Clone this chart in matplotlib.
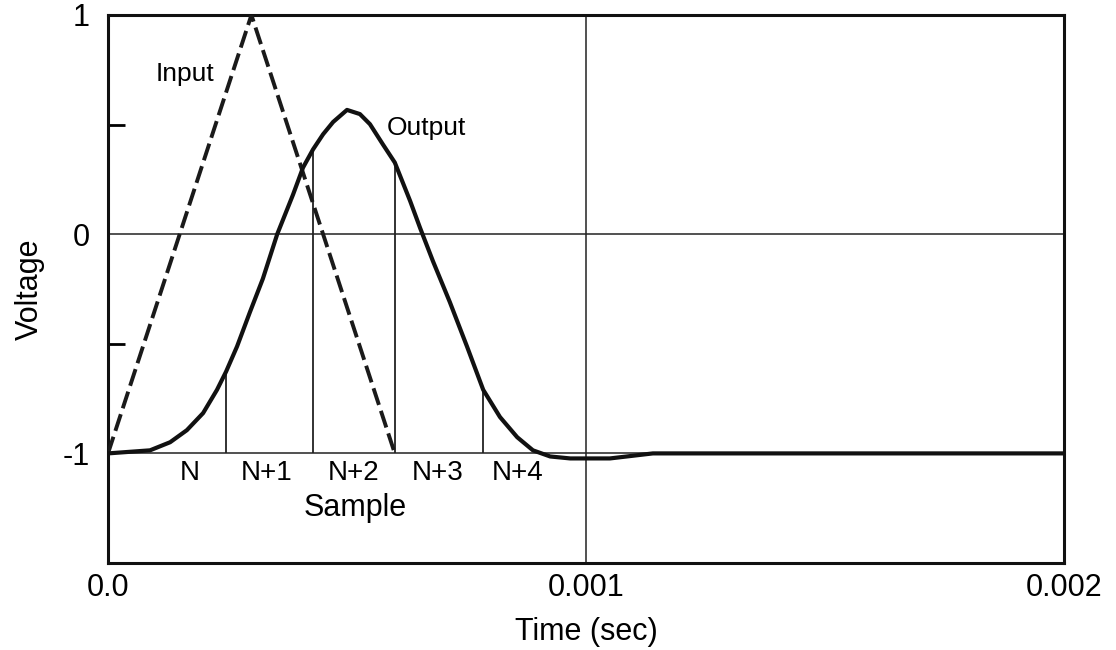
import matplotlib
matplotlib.use("Agg")
import matplotlib.pyplot as plt

plt.rcParams['font.family'] = ['Liberation Sans', 'DejaVu Sans']

# values
t_in = [0.0, 0.0003, 0.0006]
v_in = [-1.0, 1.0, -1.0]

t_out = [0.0, 0.0000879, 0.00013, 0.000165, 0.000199, 0.000228, 0.000247,
         0.000270, 0.000297, 0.000324, 0.000354, 0.000387, 0.000408, 0.000429,
         0.000450, 0.000471, 0.000500, 0.000527, 0.000548, 0.000575, 0.000600,
         0.000632, 0.000653, 0.000680, 0.000715, 0.000751, 0.000785, 0.000820,
         0.000856, 0.000889, 0.000925, 0.000967, 0.00105, 0.00114, 0.002]
v_out = [-1.0, -0.986, -0.949, -0.894, -0.816, -0.710, -0.627,
         -0.512, -0.355, -0.203, 0.0, 0.180, 0.304, 0.387,
         0.456, 0.512, 0.567, 0.548, 0.502, 0.410, 0.327,
         0.152, 0.028, -0.124, -0.309, -0.512, -0.710, -0.834,
         -0.926, -0.986, -1.014, -1.023, -1.023, -1.0, -1.0]

sample_t = [0.000247, 0.000428, 0.0006, 0.000785]
sample_v = [-0.627, 0.383, 0.327, -0.710]

sample_names = ["N", "N+1", "N+2", "N+3", "N+4"]
sample_name_t = [0.000172, 0.000331, 0.000513, 0.000690, 0.000856]

fig = plt.figure(figsize=(11.16, 6.5), dpi=100)
ax = fig.add_axes([108/1116, 1 - 563/650, (1064-108)/1116, (563-15)/650])

ax.axhline(0, color='#222222', lw=1.1, zorder=1)
ax.axhline(-1, color='#222222', lw=1.1, zorder=1)
ax.axvline(0.001, color='#222222', lw=1.1, zorder=1)

ax.vlines(sample_t, -1, sample_v, color='#222222', lw=1.3, zorder=2)

ax.plot(t_in, v_in, color='#1a1a1a', lw=2.8, dashes=(4.5, 1.6), zorder=3)
ax.plot(t_out, v_out, color='#111111', lw=3.0, zorder=4,
        solid_joinstyle='round', solid_capstyle='round')

ax.text(0.000161, 0.733, "Input", fontsize=19, ha='center', va='center')
ax.text(0.000584, 0.484, "Output", fontsize=19, ha='left', va='center')
for name, t in zip(sample_names, sample_name_t):
    ax.text(t, -1.09, name, fontsize=20, ha='center', va='center')
ax.text(0.000517, -1.249, "Sample", fontsize=22, ha='center', va='center')

ax.set_xlim(0, 0.002)
ax.set_ylim(-1.5, 1)
ax.set_xticks([0, 0.001, 0.002])
ax.set_xticklabels(["0.0", "0.001", "0.002"])
ax.set_yticks([-1, 0, 1])
ax.set_yticklabels(["-1", "0", "1"])
ax.set_yticks([-0.5, 0.5], minor=True)
ax.tick_params(axis='both', which='major', length=0, labelsize=22)
ax.tick_params(axis='x', pad=7)
ax.tick_params(axis='y', pad=13)
ax.tick_params(axis='y', which='minor', direction='in', length=12, width=2)

for s in ax.spines.values():
    s.set_linewidth(2.2)
    s.set_color('#111111')

ax.set_xlabel("Time (sec)", fontsize=22, labelpad=10)
ax.set_ylabel("Voltage", fontsize=22, labelpad=13)

fig.savefig("out.png", dpi=100)
